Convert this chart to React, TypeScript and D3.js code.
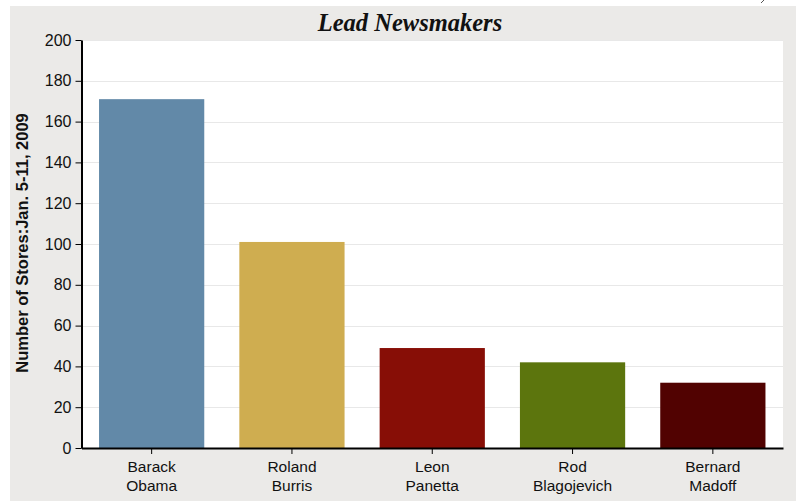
import React, { useEffect, useRef } from "react";
import * as d3 from "d3";

const categories: string[][] = [
  ["Barack", "Obama"],
  ["Roland", "Burris"],
  ["Leon", "Panetta"],
  ["Rod", "Blagojevich"],
  ["Bernard", "Madoff"],
];
const values: number[] = [171, 101, 49, 42, 32];
const colors: string[] = ["#6289a8", "#cfad50", "#870e06", "#5c750d", "#510201"];
const yTicks: number[] = [0, 20, 40, 60, 80, 100, 120, 140, 160, 180, 200];
const title = "Lead Newsmakers";
const yTitle = "Number of Stores:Jan. 5-11, 2009";

const W = 796;
const H = 501;
const left = 81.5;
const right = 783;
const top = 40;
const bottom = 448;

export default function App() {
  const ref = useRef<SVGSVGElement>(null);

  useEffect(() => {
    const svg = d3.select(ref.current);
    svg.selectAll("*").remove();

    const keys = categories.map((c) => c.join(" "));
    const x = d3.scaleBand<string>().domain(keys).range([left, right]).paddingInner(0.25).paddingOuter(0.125);
    const y = d3.scaleLinear().domain([0, 200]).range([bottom, top]);

    svg.append("rect").attr("x", 0).attr("y", 0).attr("width", W).attr("height", H).attr("fill", "#ffffff");
    svg.append("rect").attr("x", 10).attr("y", 6).attr("width", W - 10).attr("height", H - 6).attr("fill", "#ebeae8");
    svg.append("rect").attr("x", left).attr("y", top).attr("width", right - left).attr("height", bottom - top).attr("fill", "#ffffff");
    svg.append("line").attr("x1", 761).attr("y1", 3).attr("x2", 764).attr("y2", 0).attr("stroke", "#555").attr("stroke-width", 1);

    // gridlines
    svg.append("g")
      .selectAll("line")
      .data(yTicks.filter((t) => t > 0))
      .join("line")
      .attr("x1", left)
      .attr("x2", right)
      .attr("y1", (d) => Math.round(y(d)) + 0.5)
      .attr("y2", (d) => Math.round(y(d)) + 0.5)
      .attr("stroke", "#e8e8e8")
      .attr("stroke-width", 1);

    // bars
    svg.append("g")
      .selectAll("rect")
      .data(values)
      .join("rect")
      .attr("x", (_d, i) => x(keys[i]) as number)
      .attr("y", (d) => y(d))
      .attr("width", x.bandwidth())
      .attr("height", (d) => y(0) - y(d))
      .attr("fill", (_d, i) => colors[i]);

    // y axis
    const yAxis = d3.axisLeft(y).tickValues(yTicks).tickSize(6).tickPadding(4).tickSizeOuter(0);
    const gy = svg.append("g").attr("transform", `translate(${left},0)`).call(yAxis);
    gy.select(".domain").attr("stroke", "#000").attr("stroke-width", 2);
    gy.selectAll(".tick line").attr("stroke", "#000").attr("stroke-width", 1);
    gy.selectAll(".tick text")
      .attr("font-family", "'Liberation Sans', Arial, sans-serif")
      .attr("font-size", 16)
      .attr("fill", "#111");

    // x axis
    const xAxis = d3.axisBottom(x).tickSize(6).tickSizeOuter(0).tickFormat(() => "");
    const gx = svg.append("g").attr("transform", `translate(0,${bottom})`).call(xAxis);
    gx.select(".domain").attr("stroke", "#000").attr("stroke-width", 2);
    gx.selectAll(".tick line").attr("stroke", "#000").attr("stroke-width", 1);
    gx.selectAll(".tick").each(function (_d, i) {
      const t = d3.select(this).append("text")
        .attr("font-family", "'Liberation Sans', Arial, sans-serif")
        .attr("font-size", 15.5)
        .attr("fill", "#111")
        .attr("text-anchor", "middle");
      categories[i].forEach((line, j) => {
        t.append("tspan").attr("x", 0).attr("y", 24 + j * 19).text(line);
      });
    });

    // title
    svg.append("text")
      .attr("x", 410)
      .attr("y", 31)
      .attr("text-anchor", "middle")
      .attr("font-family", "'Liberation Serif', 'Times New Roman', serif")
      .attr("font-style", "italic")
      .attr("font-weight", "bold")
      .attr("font-size", 24.5)
      .attr("fill", "#111")
      .text(title);

    // y title
    svg.append("text")
      .attr("transform", `translate(28,${(top + bottom) / 2 - 1}) rotate(-90)`)
      .attr("text-anchor", "middle")
      .attr("font-family", "'Liberation Sans', Arial, sans-serif")
      .attr("font-weight", "bold")
      .attr("font-size", 16.5)
      .attr("fill", "#111")
      .text(yTitle);
  }, []);

  return (
    <svg
      ref={ref}
      width={W}
      height={H}
      style={{ position: "absolute", left: 0, top: 0, display: "block" }}
    />
  );
}
